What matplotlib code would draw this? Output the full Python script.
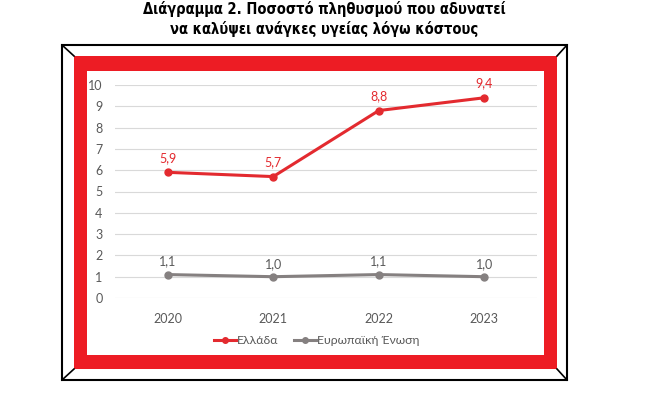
import matplotlib.pyplot as plt
from matplotlib.patches import Rectangle
from matplotlib.lines import Line2D

years = ['2020', '2021', '2022', '2023']
greece = [5.9, 5.7, 8.8, 9.4]
eu = [1.1, 1.0, 1.1, 1.0]
series_names = ['Ελλάδα', 'Ευρωπαϊκή Ένωση']
title = 'Διάγραμμα 2. Ποσοστό πληθυσμού που αδυνατεί\nνα καλύψει ανάγκες υγείας λόγω κόστους'

W, H = 649, 393
RED = '#ED1C24'
LRED = '#E32A2F'
GREY = '#858080'
TXT = '#595959'

plt.rcParams['font.family'] = ['Lato', 'DejaVu Sans']

fig = plt.figure(figsize=(W / 100, H / 100), dpi=100)


def fx(px):
    return px / W


def fy(py):
    return 1 - py / H


def rect(x0, y0, x1, y1, **kw):
    fig.patches.append(Rectangle((fx(x0), fy(y1)), fx(x1) - fx(x0), fy(y0) - fy(y1),
                                 transform=fig.transFigure, figure=fig, **kw))


# frame
rect(62, 45, 567, 380, facecolor='white', edgecolor='black', linewidth=1.5)
rect(74, 56, 557, 369, facecolor=RED, edgecolor='none')
rect(87, 71, 544, 355, facecolor='white', edgecolor='none')
for (ax0, ay0), (ax1, ay1) in [((62, 45), (74, 56)), ((567, 45), (557, 56)),
                               ((62, 380), (74, 369)), ((567, 380), (557, 369))]:
    fig.lines.append(Line2D([fx(ax0), fx(ax1)], [fy(ay0), fy(ay1)], color='black',
                            linewidth=1.2, transform=fig.transFigure, figure=fig))

fig.text(0.5, fy(19), title, ha='center', va='center', fontsize=10.5,
         fontweight='bold', family='DejaVu Sans', fontstretch='condensed',
         linespacing=1.3, color='black')

ax = fig.add_axes([fx(115), fy(298), fx(537) - fx(115), fy(85) - fy(298)])
ax.set_zorder(5)
ax.set_facecolor('none')
x = range(len(years))
ax.plot(x, greece, color=LRED, linewidth=2.2, marker='o', markersize=5, label=series_names[0])
ax.plot(x, eu, color=GREY, linewidth=2.2, marker='o', markersize=5, label=series_names[1])
for i in x:
    ax.annotate(f'{greece[i]:.1f}'.replace('.', ','), (i, greece[i]), xytext=(0, 6),
                textcoords='offset points', ha='center', va='bottom', color=LRED, fontsize=9)
    ax.annotate(f'{eu[i]:.1f}'.replace('.', ','), (i, eu[i]), xytext=(0, 5),
                textcoords='offset points', ha='center', va='bottom', color=TXT, fontsize=9)

ax.set_xlim(-0.5, 3.5)
ax.set_ylim(0, 10)
ax.set_yticks(range(0, 11))
ax.set_xticks(list(x))
ax.set_xticklabels(years)
ax.grid(axis='y', color='#D9D9D9', linewidth=0.8)
ax.set_axisbelow(True)
for s in ax.spines.values():
    s.set_visible(False)
ax.tick_params(length=0, labelsize=9, colors=TXT, pad=9)
ax.tick_params(axis='x', pad=11)

ax.legend(loc='center', bbox_to_anchor=(0.478, -0.2), ncol=2, frameon=False, fontsize=8.8,
          labelcolor=TXT, handlelength=1.8, handletextpad=0.1, columnspacing=1.3,
          markerscale=0.8)

fig.savefig('out.png', dpi=100)
